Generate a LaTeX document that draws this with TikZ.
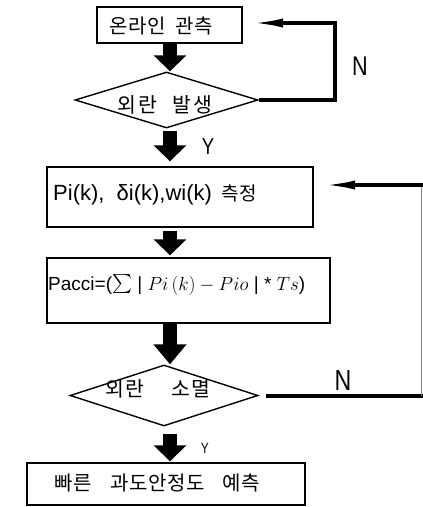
\RequirePackage{fix-cm}
\documentclass[tikz,border=0pt]{standalone}
\usepackage{fontspec}
\setmainfont{Liberation Sans}
\newfontfamily\kr[LetterSpace=3]{Noto Sans CJK KR}
\newfontfamily\krw[LetterSpace=9]{Noto Sans CJK KR}
\newfontfamily\narrowsans[FakeStretch=0.8]{Liberation Sans}
\usetikzlibrary{shapes.geometric,arrows.meta,calc}
\newcommand{\bigsum}{\raisebox{-2pt}{\scalebox{1.9}{$\textstyle\sum$}}}
\begin{document}
\begin{tikzpicture}[x=1pt,y=-1pt,
  box/.style={draw,line width=1.4pt,inner sep=0pt},
  dia/.style={draw,diamond,line width=1.4pt,inner sep=0pt},
  krtext/.style={font=\kr\fontsize{20}{22}\selectfont,inner sep=0pt},
  krwide/.style={font=\krw\fontsize{20.5}{22}\selectfont,inner sep=0pt},
  lattext/.style={font=\fontsize{22}{24}\selectfont,inner sep=0pt,anchor=west},
  blk/.style={line width=14pt,-{Triangle[length=16pt,width=32pt]}},
  fb/.style={line width=3.5pt,-{Latex[length=32pt,width=9pt]}},
  yn/.style={font=\narrowsans,inner sep=0pt}]
\useasboundingbox (0,0) rectangle (423,507);
\coordinate (ax) at (170,0);
% boxes
\node[box,minimum width=145pt,minimum height=36pt] (b1) at (169.5,25) {};
\node[krtext] (t1) at (161,26) {온라인\hspace{5pt} 관측};
\node[dia,minimum width=183pt,minimum height=56pt] (d1) at (166.5,100) {};
\node[krwide] (td1) at (165,105) {외란\hspace{9pt} 발생};
\node[box,minimum width=266pt,minimum height=60pt] (b2) at (180,197) {};
\node[lattext] (t2) at (53,195) {Pi(k),\hspace{6pt} δi(k),wi(k)\hspace{3pt} {\kr\fontsize{19}{22}\selectfont 측정}};
\node[box,minimum width=283pt,minimum height=65pt] (b3) at (188.5,290.5) {};
\node[lattext,font=\fontsize{19}{22}\selectfont] (t3) at (48,285) {Pacci=(\bigsum\ | $Pi\,(k) - Pio$ | * $Ts$)};
\node[dia,minimum width=188pt,minimum height=61pt] (d2) at (164,395.5) {};
\node[krwide] (td2) at (158,389) {외란\hspace{20pt} 소멸};
\node[box,minimum width=278pt,minimum height=42pt] (b4) at (166,484) {};
\node[krtext] (t4) at (157.5,483) {빠른\hspace{13pt} 과도안정도\hspace{13pt} 예측};
% block arrows
\draw[blk] (b1.south -| ax) -- (d1.north -| ax);
\draw[blk] ($(d1.south -| ax)+(0,2)$) -- ($(b2.north -| ax)+(0,-5)$);
\draw[blk] ($(b2.south -| ax)+(0,3)$) -- ($(b3.north -| ax)+(0,-2)$);
\draw[line width=14pt,-{Triangle[length=20pt,width=32pt]}] (b3.south -| ax) -- (d2.north -| ax);
\draw[blk] ($(d2.south -| ax)+(0,7)$) -- ($(b4.north -| ax)+(0,-1)$);
% labels
\node[yn,font=\narrowsans\fontsize{23}{25}\selectfont] (y1) at (208,147) {Y};
\node[yn,font=\narrowsans\fontsize{15}{17}\selectfont] (y2) at (205,448) {Y};
\node[yn,font=\narrowsans\fontsize{27}{29}\selectfont] (n1) at (360,66) {N};
\node[yn,font=\narrowsans\fontsize{29}{31}\selectfont] (n2) at (343,381) {N};
% feedback loops
\coordinate (fb1) at (251,23);
\coordinate (r1) at (335,23);
\draw[fb] (d1.east) -| (r1) -- (fb1);
\coordinate (fb2) at (323,185);
\coordinate (r2) at (421.5,185);
\draw[line width=4pt] ($(d2.east)+(7,0)$) -- ($(d2.east -| r2)+(3,0)$);
\draw[gray,line width=1pt] (d2.east -| r2) -- (r2);
\draw[fb] ($(r2)+(3,0)$) -- (fb2);
\end{tikzpicture}
\end{document}
